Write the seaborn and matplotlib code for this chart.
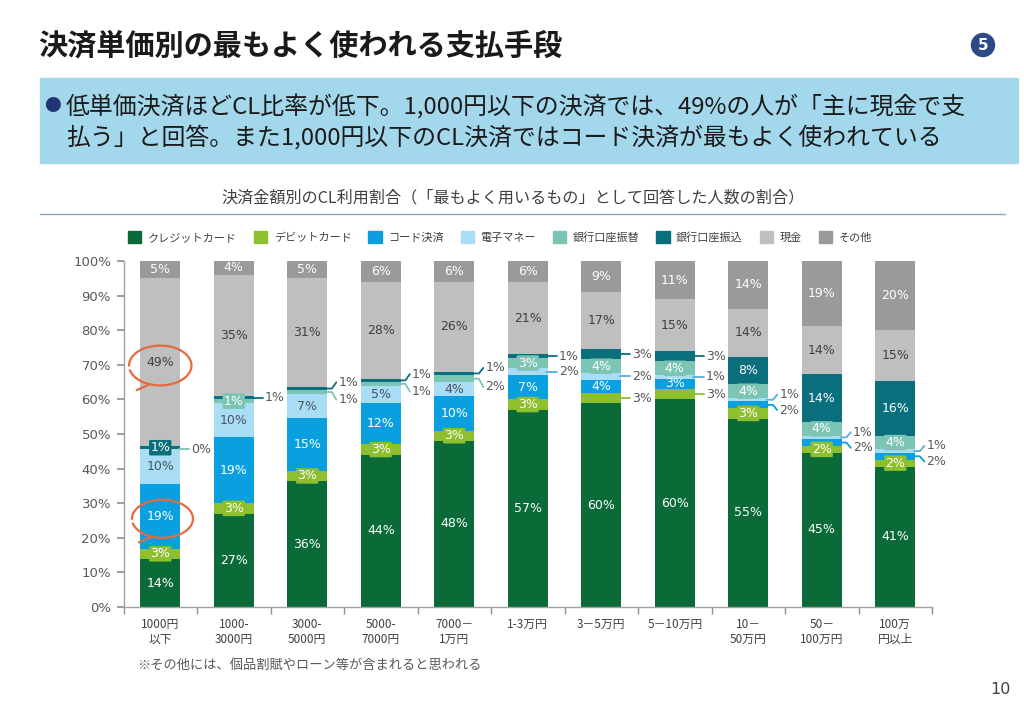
import numpy as np
import pandas as pd
import matplotlib
matplotlib.use("Agg")
import matplotlib.pyplot as plt
from matplotlib.patches import Rectangle, Arc, Ellipse
from matplotlib.lines import Line2D
import seaborn as sns

# ---------------- data ----------------
categories = ["1000円\n以下", "1000-\n3000円", "3000-\n5000円", "5000-\n7000円", "7000－\n1万円",
              "1-3万円", "3－5万円", "5－10万円", "10－\n50万円", "50－\n100万円", "100万\n円以上"]
series_names = ["クレジットカード", "デビットカード", "コード決済", "電子マネー",
                "銀行口座振替", "銀行口座振込", "現金", "その他"]
credit   = [14, 27, 36, 44, 48, 57, 60, 60, 55, 45, 41]
debit    = [3, 3, 3, 3, 3, 3, 3, 3, 3, 2, 2]
code     = [19, 19, 15, 12, 10, 7, 4, 3, 2, 2, 2]
emoney   = [10, 10, 7, 5, 4, 2, 2, 1, 1, 1, 1]
furikae  = [0, 1, 1, 1, 2, 3, 4, 4, 4, 4, 4]
furikomi = [1, 1, 1, 1, 1, 1, 3, 3, 8, 14, 16]
cash     = [49, 35, 31, 28, 26, 21, 17, 15, 14, 14, 15]
other    = [5, 4, 5, 6, 6, 6, 9, 11, 14, 19, 20]
yticks = [0, 10, 20, 30, 40, 50, 60, 70, 80, 90, 100]

values = np.array([credit, debit, code, emoney, furikae, furikomi, cash, other], dtype=float)

# ---------------- styles ----------------
colors = ["#0b6b38", "#8dbf2e", "#0aa0e0", "#a9dcf5", "#7cc4b4", "#0a6f7c", "#bfbfbf", "#9a9a9a"]
label_colors = ["white", "white", "white", "#4a5560", "white", "white", "#404040", "white"]
boxed = {1, 4, 5}  # thin segments whose labels get a colored box
NUMFONT = ["DejaVu Sans"]

# 100% stacked: normalise each column
heights = values / values.sum(axis=0) * 100
cum = np.cumsum(heights, axis=0)
bottoms = cum - heights

W, H = 1024, 708
fig = plt.figure(figsize=(W / 100, H / 100), dpi=100)
sns.set_theme(style="white")
plt.rcParams["font.family"] = ["Noto Sans CJK JP", "DejaVu Sans"]

def fx(px):
    return px / W

def fy(py):
    return 1 - py / H

# ---------------- slide decoration ----------------
fig.text(fx(38), fy(46), "決済単価別の最もよく使われる支払手段", fontsize=21, fontweight="bold",
         color="#1a1a1a", va="center", ha="left")
circ = Ellipse((fx(983), fy(45)), 23 / W, 23 / H, transform=fig.transFigure, color="#2d4a86")
fig.patches.append(circ)
fig.text(fx(983), fy(45.5), "5", fontsize=11, fontweight="bold", color="white",
         ha="center", va="center", family=NUMFONT)

banner = Rectangle((fx(40), fy(163)), fx(1018) - fx(40), fy(78) - fy(163),
                   transform=fig.transFigure, color="#a3d7eb", zorder=0)
fig.patches.append(banner)
fig.text(fx(44), fy(106), "●", fontsize=12, color="#1f3575", va="center", ha="left")
fig.text(fx(66), fy(106), "低単価決済ほどCL比率が低下。1,000円以下の決済では、49%の人が「主に現金で支",
         fontsize=17.2, color="#1a1a1a", va="center", ha="left")
fig.text(fx(66), fy(137), "払う」と回答。また1,000円以下のCL決済ではコード決済が最もよく使われている",
         fontsize=17.2, color="#1a1a1a", va="center", ha="left")

fig.text(fx(513), fy(198), "決済金額別のCL利用割合（「最もよく用いるもの」として回答した人数の割合）",
         fontsize=11.6, color="#404040", ha="center", va="center")
fig.lines.append(Line2D([fx(40), fx(1005)], [fy(214), fy(214)], transform=fig.transFigure,
                        color="#8ca5bd", lw=1))

fig.text(fx(137), fy(665), "※その他には、個品割賦やローン等が含まれると思われる",
         fontsize=9.5, color="#595959", ha="left", va="center")
fig.text(fx(1000), fy(690), "10", fontsize=11.5, color="#404040", ha="center", va="center",
         family=NUMFONT)

# ---------------- chart ----------------
ax = fig.add_axes([fx(123.5), fy(607), fx(932) - fx(123.5), fy(261) - fy(607)])
xs = np.arange(len(categories))
bw = 0.55
# draw cumulative tops from the highest layer down so lower layers overlay
for k in range(len(series_names) - 1, -1, -1):
    df = pd.DataFrame({"cat": categories, "top": cum[k]})
    sns.barplot(data=df, x="cat", y="top", order=categories, color=colors[k], saturation=1,
                width=bw, ax=ax, linewidth=0, label=series_names[k])

ax.set_xlim(-0.5, len(categories) - 0.5)
ax.set_ylim(0, 100)
ax.set_xlabel("")
ax.set_ylabel("")
ax.set_yticks(yticks)
ax.set_yticklabels([f"{t}%" for t in yticks], fontsize=9.5, color="#595959", family=NUMFONT)
ax.set_xticks(xs)
ax.set_xticklabels(categories, fontsize=8.5, color="#404040", linespacing=1.15)
ax.set_xticks(np.arange(-0.5, len(categories), 1.0), minor=True)
ax.tick_params(axis="x", which="major", length=0, pad=8)
ax.tick_params(axis="x", which="minor", length=5, color="#909090", direction="out", bottom=True)
ax.tick_params(axis="y", length=5, color="#909090", direction="out", left=True, pad=4)
for s in ["top", "right"]:
    ax.spines[s].set_visible(False)
for s in ["left", "bottom"]:
    ax.spines[s].set_color("#a0a0a0")
    ax.spines[s].set_linewidth(1)
ax.set_facecolor("none")
if ax.get_legend():
    ax.get_legend().remove()

# callouts: (column, series index, label dy in %)
callouts = [
    (0, 4, 0.0),
    (1, 5, 0.0),
    (2, 5, 1.8), (2, 4, -2.2),
    (3, 5, 1.8), (3, 4, -2.2),
    (4, 5, 1.6), (4, 4, -2.4),
    (5, 5, 0.0), (5, 3, 0.0),
    (6, 5, 0.0), (6, 3, 0.0), (6, 1, 0.0),
    (7, 5, 0.0), (7, 3, 0.0), (7, 1, 0.0),
    (8, 3, 1.5), (8, 2, -1.5),
    (9, 3, 1.5), (9, 2, -1.5),
    (10, 3, 1.5), (10, 2, -1.5),
]
called = {(c, k) for c, k, _ in callouts}

for k in range(len(series_names)):
    for i in range(len(categories)):
        v = values[k, i]
        if (i, k) in called or v <= 0:
            continue
        ymid = bottoms[k, i] + heights[k, i] / 2
        kw = {}
        if k in boxed:
            kw["bbox"] = dict(boxstyle="round,pad=0.1", fc=colors[k], ec="none")
        ax.text(i, ymid, f"{int(v)}%", ha="center", va="center", fontsize=9,
                color=label_colors[k], zorder=5, family=NUMFONT, **kw)

for i, k, dy in callouts:
    ymid = bottoms[k, i] + heights[k, i] / 2
    x0 = i + bw / 2
    x1 = x0 + 0.12
    ax.plot([x0 - 0.02, x0 + 0.06, x1], [ymid, ymid, ymid + dy],
            color=colors[k] if k != 3 else "#5aaed6", lw=1.3, clip_on=False, zorder=6)
    ax.text(x1 + 0.03, ymid + dy, f"{int(values[k, i])}%", ha="left", va="center",
            fontsize=9, color="#595959", clip_on=False, zorder=6, family=NUMFONT)

# hand-drawn highlight circles in the first column
for (cx, cy, ew, eh) in [(0.0, 69.8, 0.85, 11.5), (0.03, 25.5, 0.83, 11.0)]:
    arc = Arc((cx, cy), ew, eh, theta1=250, theta2=215, color="#e66a3e", lw=1.6, zorder=7,
              clip_on=False)
    ax.add_patch(arc)
    t = np.radians(250)
    ax.plot([cx + ew / 2 * np.cos(t), cx - 0.32], [cy + eh / 2 * np.sin(t), cy - eh * 0.62],
            color="#e66a3e", lw=1.6, zorder=7, clip_on=False)

# legend
handles = [Rectangle((0, 0), 1, 1, color=c) for c in colors]
fig.legend(handles, series_names, loc="center", bbox_to_anchor=(fx(500), fy(237)), ncol=8,
           frameon=False, fontsize=8, handlelength=1.2, handleheight=1.2, handletextpad=0.6,
           columnspacing=1.5, labelcolor="#404040")

fig.savefig("out.png", dpi=100)
